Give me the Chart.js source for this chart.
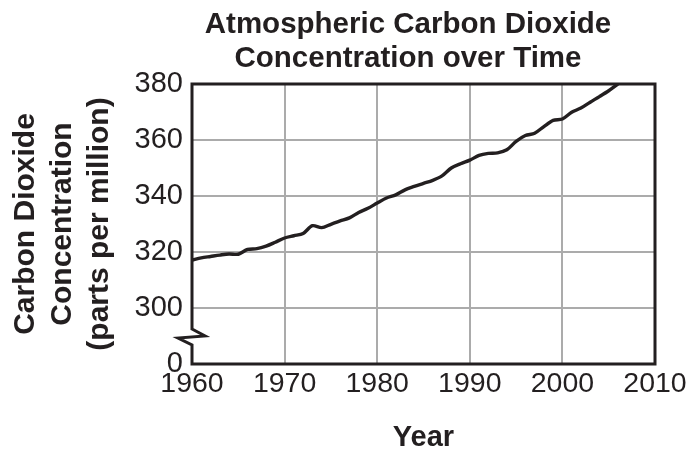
<!DOCTYPE html>
<html>
<head>
<meta charset="utf-8">
<script src="https://cdn.jsdelivr.net/npm/chart.js@4"></script>
<style>
  body { margin: 0; background: #fff; }
  canvas { display: block; }
</style>
</head>
<body>
<canvas id="co2Chart" width="691" height="452"></canvas>
<script>
// values (ppm, annual)
const years = [1960, 1961, 1962, 1963, 1964, 1965, 1966, 1967, 1968, 1969,
  1970, 1971, 1972, 1973, 1974, 1975, 1976, 1977, 1978, 1979,
  1980, 1981, 1982, 1983, 1984, 1985, 1986, 1987, 1988, 1989,
  1990, 1991, 1992, 1993, 1994, 1995, 1996, 1997, 1998, 1999,
  2000, 2001, 2002, 2003, 2004, 2005, 2006];
const co2 = [317.1, 317.9, 318.4, 318.9, 319.3, 319.2, 320.9, 321.2, 322.1, 323.5,
  325.0, 325.8, 326.6, 329.4, 328.7, 329.9, 331.1, 332.2, 334.1, 335.6,
  337.5, 339.3, 340.4, 342.2, 343.4, 344.5, 345.6, 347.2, 350.0, 351.5,
  352.8, 354.5, 355.2, 355.4, 356.5, 359.5, 361.6, 362.4, 364.8, 367.0,
  367.5, 369.9, 371.4, 373.5, 375.5, 377.6, 380.0];
const xTicks = [1960, 1970, 1980, 1990, 2000, 2010];
const yTicks = [280, 300, 320, 340, 360, 380]; // 280 sits where the axis is broken, labelled "0"

const ink = "#231f20";
const gridGrey = "#ababab";
const fontFam = "'Liberation Sans', Arial, Helvetica, sans-serif";

// title and boxed frame with the axis break on the left edge
const framePlugin = {
  id: "frame",
  afterDraw(chart) {
    const { ctx, chartArea: a } = chart;
    ctx.save();
    ctx.fillStyle = ink;
    ctx.textAlign = "center";
    ctx.textBaseline = "alphabetic";
    ctx.font = "bold 29.5px " + fontFam;
    ctx.fillText("Atmospheric Carbon Dioxide", 408, 33);
    ctx.fillText("Concentration over Time", 408, 67);

    const yb = chart.scales.y.getPixelForValue(290);
    ctx.strokeStyle = ink;
    ctx.lineWidth = 3;
    ctx.lineJoin = "miter";
    ctx.beginPath();
    ctx.moveTo(a.left, yb - 7);
    ctx.lineTo(a.left + 13, yb);
    ctx.lineTo(a.left - 14, yb + 2);
    ctx.lineTo(a.left, yb + 9);
    ctx.lineTo(a.left, a.bottom);
    ctx.lineTo(a.right, a.bottom);
    ctx.lineTo(a.right, a.top);
    ctx.lineTo(a.left, a.top);
    ctx.closePath();
    ctx.stroke();
    ctx.restore();
  }
};

new Chart(document.getElementById("co2Chart"), {
  type: "line",
  data: {
    datasets: [{
      data: years.map((y, i) => ({ x: y, y: co2[i] })),
      borderColor: ink,
      borderWidth: 3.4,
      pointRadius: 0,
      tension: 0.3,
      fill: false
    }]
  },
  options: {
    responsive: false,
    animation: false,
    layout: { padding: { top: 84, left: 0, right: 36, bottom: 0 } },
    plugins: { legend: { display: false }, title: { display: false }, tooltip: { enabled: false } },
    scales: {
      x: {
        type: "linear",
        min: xTicks[0],
        max: xTicks[xTicks.length - 1],
        afterBuildTicks: (s) => { s.ticks = xTicks.map(v => ({ value: v })); },
        afterFit: (s) => { s.height = 88; },
        border: { display: false },
        grid: {
          drawTicks: false,
          lineWidth: 2,
          color: (c) => (c.tick && (c.tick.value === 1960 || c.tick.value === 2010)) ? "rgba(0,0,0,0)" : gridGrey
        },
        ticks: {
          color: ink,
          padding: 3,
          maxRotation: 0,
          font: { size: 28.5, family: fontFam },
          callback: (v) => String(v)
        },
        title: {
          display: true,
          text: "Year",
          color: ink,
          padding: { top: 0, bottom: 0 },
          font: { size: 29, weight: "bold", family: fontFam, lineHeight: 1 }
        }
      },
      y: {
        min: yTicks[0],
        max: yTicks[yTicks.length - 1],
        afterBuildTicks: (s) => { s.ticks = yTicks.map(v => ({ value: v })); },
        afterFit: (s) => { s.width = 192; },
        border: { display: false },
        grid: {
          drawTicks: false,
          lineWidth: 2,
          color: (c) => (c.tick && (c.tick.value === 280 || c.tick.value === 380)) ? "rgba(0,0,0,0)" : gridGrey
        },
        ticks: {
          color: ink,
          padding: 9,
          font: { size: 29, family: fontFam },
          callback: (v) => v === 280 ? "0" : String(v)
        },
        title: {
          display: true,
          text: ["Carbon Dioxide", "Concentration", "(parts per million)"],
          color: ink,
          padding: { top: 7, bottom: 0 },
          font: { size: 30, weight: "bold", family: fontFam, lineHeight: 1.23 }
        }
      }
    }
  },
  plugins: [framePlugin]
});
</script>
</body>
</html>
